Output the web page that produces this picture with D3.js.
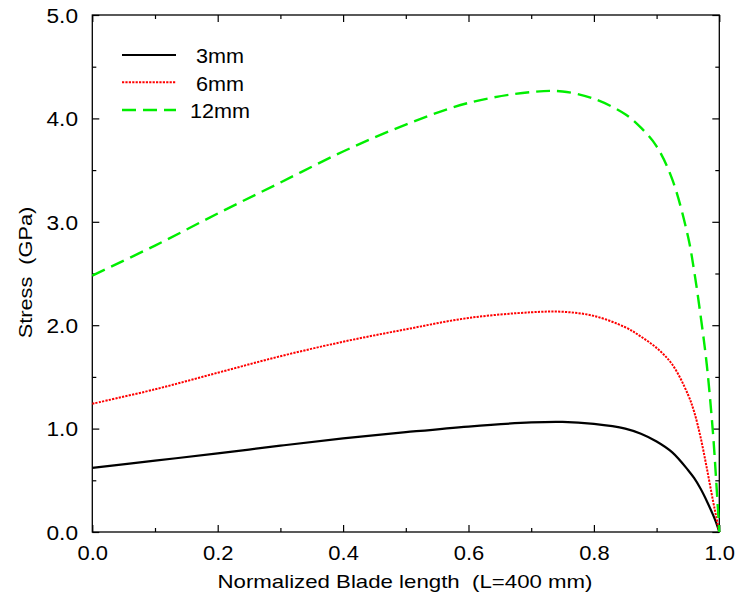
<!DOCTYPE html>
<html><head><meta charset="utf-8">
<script src="https://cdn.jsdelivr.net/npm/d3@7"></script>
<style>
body{margin:0;background:#fff}
text{font-family:"Liberation Sans",Arial,Helvetica,sans-serif;fill:#000;white-space:pre}
</style>
</head><body>
<svg id="chart" width="735" height="598"></svg>
<script>
// ---- data ----
const positions  = [0, 0.1, 0.2, 0.3, 0.4, 0.5, 0.6, 0.7, 0.75, 0.8, 0.85, 0.875, 0.9, 0.925, 0.95, 0.96, 0.97, 0.98, 0.99, 0.995, 1.0];
const stress3mm  = [0.62, 0.69, 0.76, 0.835, 0.905, 0.965, 1.02, 1.06, 1.065, 1.045, 1.00, 0.95, 0.875, 0.77, 0.60, 0.52, 0.42, 0.30, 0.165, 0.09, 0.0];
const stress6mm  = [1.24, 1.38, 1.54, 1.70, 1.84, 1.96, 2.07, 2.125, 2.13, 2.09, 1.98, 1.89, 1.78, 1.62, 1.33, 1.16, 0.92, 0.62, 0.30, 0.15, 0.0];
const stress12mm = [2.48, 2.77, 3.08, 3.38, 3.68, 3.94, 4.15, 4.255, 4.26, 4.19, 4.04, 3.91, 3.73, 3.41, 2.86, 2.52, 2.10, 1.62, 0.95, 0.50, 0.0];
const seriesNames = ["3mm", "6mm", "12mm"];
const xMajorTicks = [0, 0.2, 0.4, 0.6, 0.8, 1.0];
const xMinorTicks = [0.1, 0.3, 0.5, 0.7, 0.9];
const yMajorTicks = [0, 1, 2, 3, 4, 5];
const yMinorTicks = [0.5, 1.5, 2.5, 3.5, 4.5];
const xTitle = "Normalized Blade length  (L=400 mm)";
const yTitle = "Stress  (GPa)";

// ---- layout ----
const L = 92.3, R = 719.3, T = 15, B = 532;
const svg = d3.select("#chart");
const x = d3.scaleLinear().domain([0, 1]).range([L, R]);
const y = d3.scaleLinear().domain([0, 5]).range([B, T]);

const styles = [
  {color: "#000000", width: 2.2, dash: null},
  {color: "#ff0000", width: 2.0, dash: "2.2,1.2"},
  {color: "#00ee00", width: 2.4, dash: "14,7"}
];
const allSeries = [stress3mm, stress6mm, stress12mm];

function axisG(axis, tx, ty) {
  const g = svg.append("g").attr("transform", `translate(${tx},${ty})`).call(axis);
  g.select(".domain").remove();
  g.selectAll("line").attr("stroke", "#000").attr("stroke-width", 1.2);
  return g;
}
const fmt = d3.format(".1f");
const gxb = axisG(d3.axisBottom(x).tickValues(xMajorTicks).tickSize(-7).tickPadding(13.8).tickFormat(fmt), 0, B);
gxb.selectAll("text").attr("font-size", 20).attr("textLength", 30.5).attr("lengthAdjust", "spacingAndGlyphs").attr("font-family", null);
axisG(d3.axisBottom(x).tickValues(xMinorTicks).tickSize(-4).tickFormat(""), 0, B);
axisG(d3.axisTop(x).tickValues(xMajorTicks).tickSize(-7).tickFormat(""), 0, T);
axisG(d3.axisTop(x).tickValues(xMinorTicks).tickSize(-4).tickFormat(""), 0, T);
const gyl = axisG(d3.axisLeft(y).tickValues(yMajorTicks).tickSize(-7).tickPadding(14.3).tickFormat(fmt), L, 0);
gyl.selectAll("text").attr("font-size", 20).attr("textLength", 31.5).attr("lengthAdjust", "spacingAndGlyphs").attr("dy", "0.36em").attr("font-family", null);
axisG(d3.axisLeft(y).tickValues(yMinorTicks).tickSize(-4).tickFormat(""), L, 0);
axisG(d3.axisRight(y).tickValues(yMajorTicks).tickSize(-7).tickFormat(""), R, 0);
axisG(d3.axisRight(y).tickValues(yMinorTicks).tickSize(-4).tickFormat(""), R, 0);
svg.selectAll(".tick text").attr("fill", "#000");

svg.append("rect").attr("x", L).attr("y", T).attr("width", R - L).attr("height", B - T)
  .attr("fill", "none").attr("stroke", "#000").attr("stroke-width", 1.3);

const line = d3.line().x((d, i) => x(positions[i])).y(d => y(d)).curve(d3.curveCatmullRom.alpha(0.5));
allSeries.forEach((s, k) => {
  svg.append("path").datum(s).attr("d", line).attr("fill", "none")
    .attr("stroke", styles[k].color).attr("stroke-width", styles[k].width)
    .attr("stroke-dasharray", styles[k].dash);
});

const legY = [55, 82.3, 110];
const legW = [48, 48, 60];
seriesNames.forEach((n, k) => {
  svg.append("line").attr("x1", 122).attr("x2", 176).attr("y1", legY[k]).attr("y2", legY[k])
    .attr("stroke", styles[k].color).attr("stroke-width", styles[k].width)
    .attr("stroke-dasharray", styles[k].dash);
  svg.append("text").attr("x", 220).attr("y", legY[k] + 8.3).attr("text-anchor", "middle")
    .attr("font-size", 20).attr("textLength", legW[k]).attr("lengthAdjust", "spacingAndGlyphs").text(n);
});

svg.append("text").attr("x", 405).attr("y", 588).attr("text-anchor", "middle")
  .attr("font-size", 18.6).attr("textLength", 375).attr("lengthAdjust", "spacingAndGlyphs").text(xTitle);
svg.append("text").attr("transform", "translate(32,272.5) rotate(-90)").attr("text-anchor", "middle")
  .attr("font-size", 19).attr("textLength", 131.7).attr("lengthAdjust", "spacingAndGlyphs").text(yTitle);
</script>
</body></html>
